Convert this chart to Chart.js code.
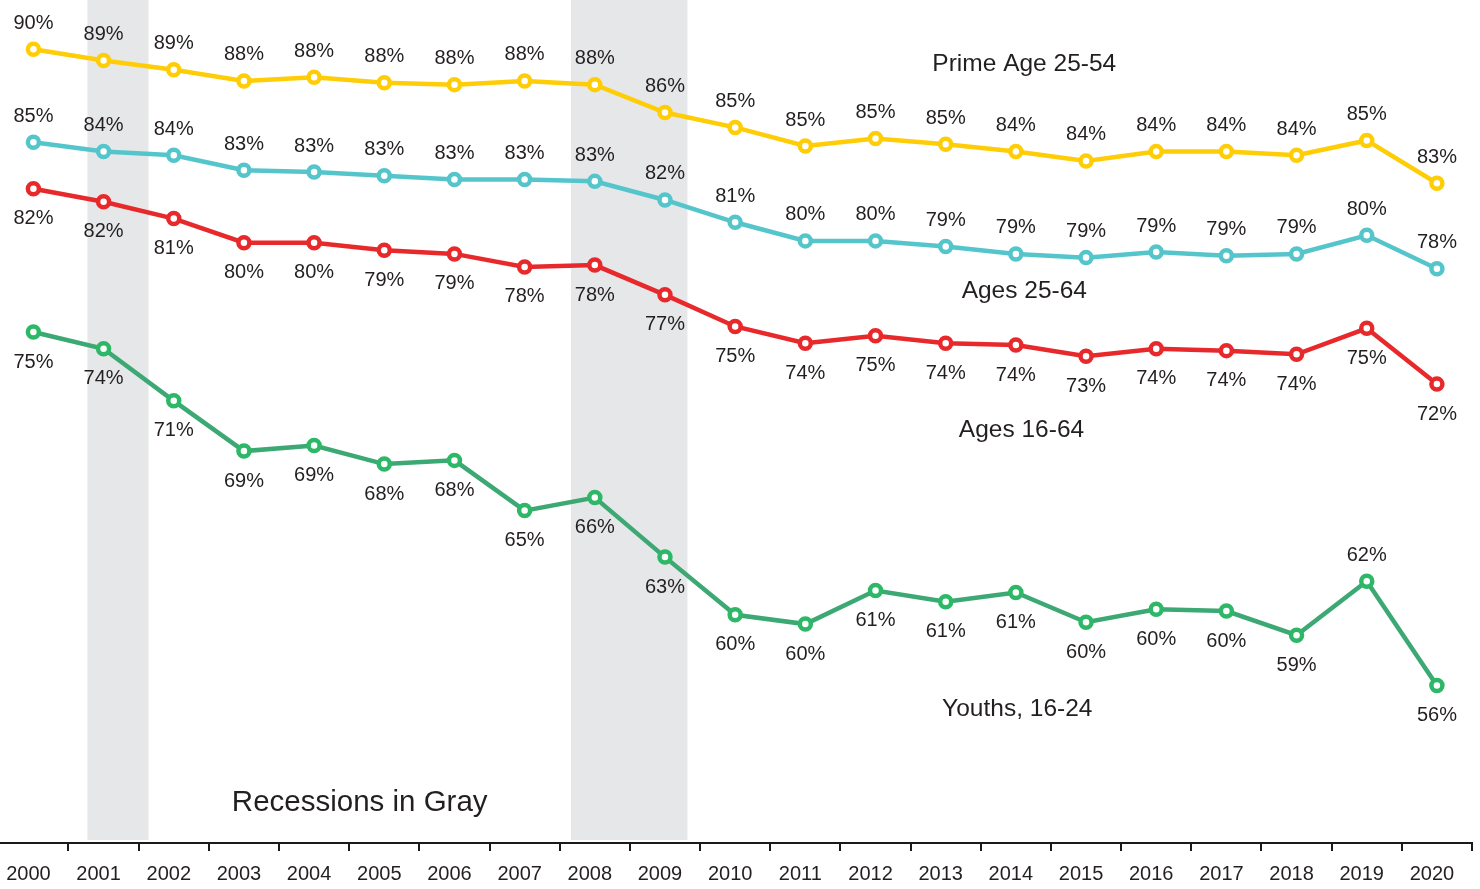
<!DOCTYPE html>
<html>
<head>
<meta charset="utf-8">
<title>Employment rates, 2000-2020</title>
<script src="https://cdn.jsdelivr.net/npm/chart.js@4.4.1/dist/chart.umd.min.js"></script>
<style>
  html, body { margin: 0; padding: 0; background: #fff; }
  #wrap { width: 1480px; height: 889px; position: relative; }
</style>
</head>
<body>
<div id="wrap"><canvas id="chart"></canvas></div>
<script>
const FONT = '"Liberation Sans", Arial, Helvetica, sans-serif';
const TEXT_COLOR = '#231f20';

const years = [2000, 2001, 2002, 2003, 2004, 2005, 2006, 2007, 2008, 2009, 2010,
               2011, 2012, 2013, 2014, 2015, 2016, 2017, 2018, 2019, 2020];

// Prime Age 25-54
const primeAge = [90.2, 89.6, 89.1, 88.5, 88.7, 88.4, 88.3, 88.5, 88.3, 86.8, 86.0,
                  85.0, 85.4, 85.1, 84.7, 84.2, 84.7, 84.7, 84.5, 85.3, 83.0];
const primeAgeLabels = [90, 89, 89, 88, 88, 88, 88, 88, 88, 86, 85,
                        85, 85, 85, 84, 84, 84, 84, 84, 85, 83];

// Ages 25-64
const ages2564 = [85.2, 84.7, 84.5, 83.7, 83.6, 83.4, 83.2, 83.2, 83.1, 82.1, 80.9,
                  79.9, 79.9, 79.6, 79.2, 79.0, 79.3, 79.1, 79.2, 80.2, 78.4];
const ages2564Labels = [85, 84, 84, 83, 83, 83, 83, 83, 83, 82, 81,
                        80, 80, 79, 79, 79, 79, 79, 79, 80, 78];

// Ages 16-64
const ages1664 = [82.7, 82.0, 81.1, 79.8, 79.8, 79.4, 79.2, 78.5, 78.6, 77.0, 75.3,
                  74.4, 74.8, 74.4, 74.3, 73.7, 74.1, 74.0, 73.8, 75.2, 72.2];
const ages1664Labels = [82, 82, 81, 80, 80, 79, 79, 78, 78, 77, 75,
                        74, 75, 74, 74, 73, 74, 74, 74, 75, 72];

// Youths, 16-24
const youths = [75.0, 74.1, 71.3, 68.6, 68.9, 67.9, 68.1, 65.4, 66.1, 62.9, 59.8,
                59.3, 61.1, 60.5, 61.0, 59.4, 60.1, 60.0, 58.7, 61.6, 56.0];
const youthsLabels = [75, 74, 71, 69, 69, 68, 68, 65, 66, 63, 60,
                      60, 61, 61, 61, 60, 60, 60, 59, 62, 56];

// recession periods (fractional years)
const recessions = [[2000.77, 2001.64], [2007.66, 2009.32]];

// text notes placed in data space
const notes = [
  { text: 'Prime Age 25-54', year: 2014.12, value: 89.4, size: 24.5 },
  { text: 'Ages 25-64', year: 2014.12, value: 77.2, size: 24.5 },
  { text: 'Ages 16-64', year: 2014.08, value: 69.7, size: 24.5 },
  { text: 'Youths, 16-24', year: 2014.02, value: 54.7, size: 24.5 },
  { text: 'Recessions in Gray', year: 2004.65, value: 49.7, size: 29.5 }
];

// tick positions: year labels on whole years, marks between years
const tickValues = [];
for (let v = 2000; v <= 2020.5; v += 0.5) tickValues.push(v);

const recessionShade = {
  id: 'recessionShade',
  beforeDatasetsDraw(chart) {
    const { ctx, chartArea, scales: { x } } = chart;
    ctx.save();
    ctx.fillStyle = '#e6e7e9';
    recessions.forEach(([from, to]) => {
      const x0 = x.getPixelForValue(from);
      const x1 = x.getPixelForValue(to);
      ctx.fillRect(x0, chartArea.top, x1 - x0, chartArea.bottom - 3 - chartArea.top);
    });
    ctx.restore();
  }
};

const pointLabels = {
  id: 'pointLabels',
  afterDatasetsDraw(chart) {
    const { ctx } = chart;
    ctx.save();
    ctx.font = '20px ' + FONT;
    ctx.fillStyle = TEXT_COLOR;
    ctx.textAlign = 'center';
    ctx.textBaseline = 'middle';
    chart.data.datasets.forEach((ds, di) => {
      const meta = chart.getDatasetMeta(di);
      meta.data.forEach((pt, i) => {
        let above = ds.labelSide === 'above';
        if (ds.flipAt && ds.flipAt.includes(i)) above = !above;
        const y = above ? pt.y - 26 : pt.y + 30;
        ctx.fillText(ds.valueLabels[i] + '%', pt.x, y);
      });
    });
    ctx.restore();
  }
};

const seriesNotes = {
  id: 'seriesNotes',
  afterDraw(chart) {
    const { ctx, scales: { x, y } } = chart;
    ctx.save();
    ctx.fillStyle = TEXT_COLOR;
    ctx.textAlign = 'center';
    ctx.textBaseline = 'middle';
    notes.forEach(n => {
      ctx.font = n.size + 'px ' + FONT;
      ctx.fillText(n.text, x.getPixelForValue(n.year), y.getPixelForValue(n.value));
    });
    ctx.restore();
  }
};

function series(label, values, valueLabels, lineColor, ringColor, labelSide, flipAt) {
  return {
    label: label,
    data: years.map((yr, i) => ({ x: yr, y: values[i] })),
    valueLabels: valueLabels,
    labelSide: labelSide,
    flipAt: flipAt || [],
    borderColor: lineColor,
    borderWidth: 4.5,
    tension: 0,
    fill: false,
    clip: false,
    pointRadius: 5.5,
    pointBorderWidth: 4.5,
    pointBackgroundColor: '#ffffff',
    pointBorderColor: ringColor,
    pointHoverRadius: 5.5
  };
}

const ctx = document.getElementById('chart').getContext('2d');
new Chart(ctx, {
  type: 'line',
  data: {
    datasets: [
      series('Prime Age 25-54', primeAge, primeAgeLabels, '#ffcd05', '#ffcd05', 'above'),
      series('Ages 25-64', ages2564, ages2564Labels, '#55c5cc', '#55c5cc', 'above'),
      series('Ages 16-64', ages1664, ages1664Labels, '#e8292b', '#e8292b', 'below'),
      series('Youths, 16-24', youths, youthsLabels, '#3ca874', '#2cb866', 'below', [19])
    ]
  },
  options: {
    responsive: true,
    maintainAspectRatio: false,
    animation: false,
    events: [],
    layout: { autoPadding: false, padding: { left: 0, right: 8, top: 0, bottom: 0 } },
    plugins: {
      legend: { display: false },
      tooltip: { enabled: false }
    },
    scales: {
      x: {
        type: 'linear',
        min: 1999.524,
        max: 2020.5,
        afterBuildTicks(scale) {
          scale.ticks = tickValues.map(v => ({ value: v }));
        },
        afterFit(scale) {
          scale.height = 46;
          scale.paddingLeft = 0;
          scale.paddingRight = 0;
        },
        grid: {
          drawOnChartArea: false,
          drawTicks: true,
          tickLength: 8,
          lineWidth: 2,
          color: c => (c.tick && !Number.isInteger(c.tick.value)) ? '#1a1a1a' : 'rgba(0,0,0,0)'
        },
        border: { display: true, color: '#1a1a1a', width: 2 },
        ticks: {
          autoSkip: false,
          maxRotation: 0,
          padding: 11,
          labelOffset: -5,
          color: TEXT_COLOR,
          font: { family: FONT, size: 20 },
          callback: v => Number.isInteger(v) ? String(v) : ''
        }
      },
      y: {
        display: false,
        min: 47.53,
        max: 92.85
      }
    }
  },
  plugins: [recessionShade, pointLabels, seriesNotes]
});
</script>
</body>
</html>
